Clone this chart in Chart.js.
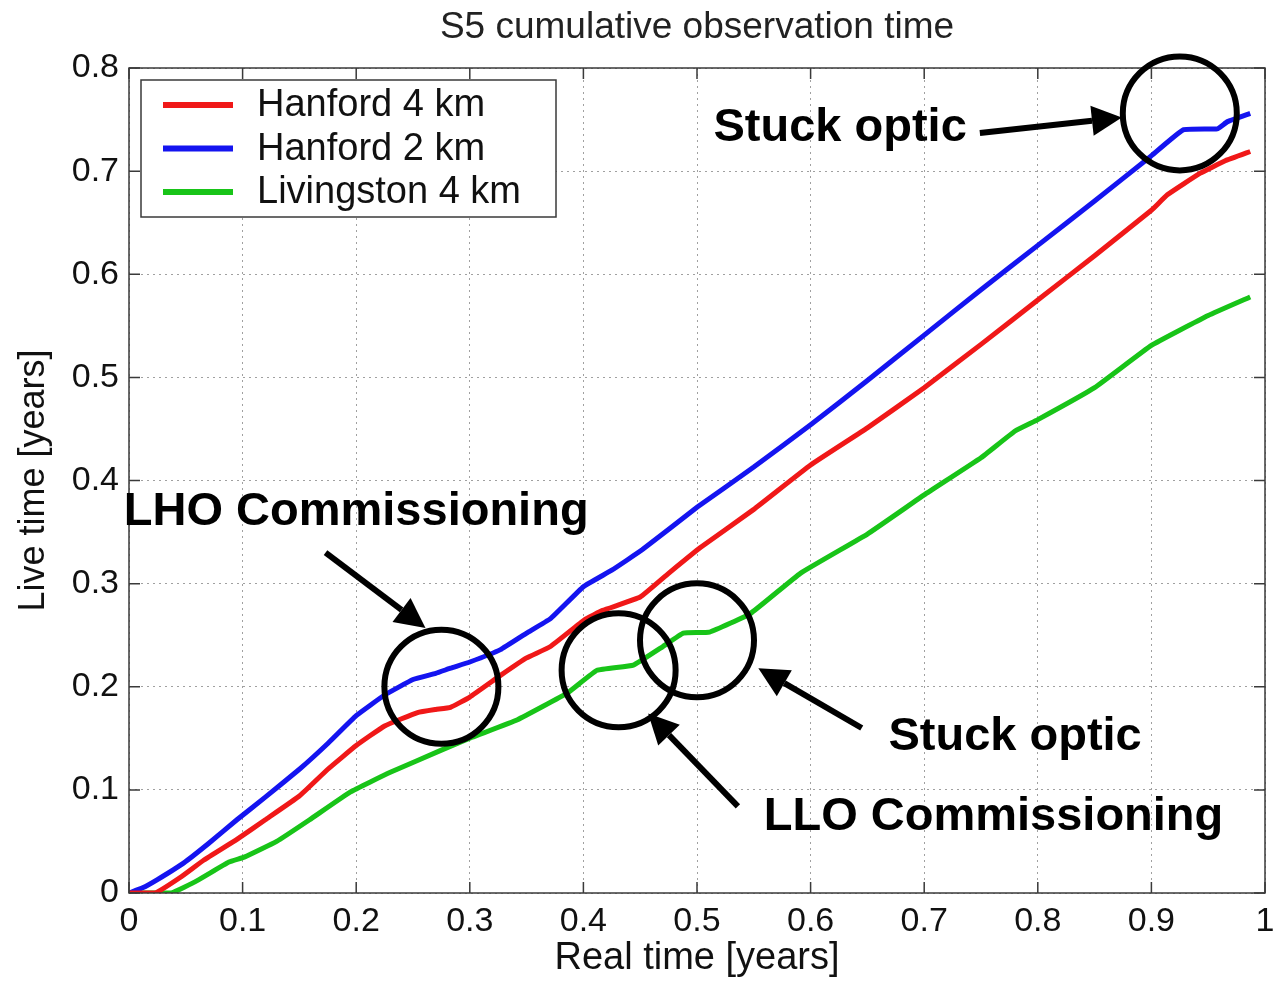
<!DOCTYPE html>
<html>
<head>
<meta charset="utf-8">
<title>S5 cumulative observation time</title>
<script src="https://cdn.jsdelivr.net/npm/chart.js@4/dist/chart.umd.min.js"></script>
<style>
    html, body { margin: 0; padding: 0; background: #fff; }
    #wrap { width: 1275px; height: 981px; }
</style>
</head>
<body>
<div id="wrap"><canvas id="chart" width="1275" height="981"></canvas></div>
<script>
// Series (real time vs live time, years)
const h4X = [0, 0.023, 0.045, 0.066, 0.095, 0.12, 0.15, 0.175, 0.2, 0.225, 0.254, 0.27, 0.283, 0.3, 0.327, 0.35, 0.371, 0.401, 0.417, 0.45, 0.475, 0.503, 0.55, 0.6, 0.65, 0.7, 0.75, 0.8, 0.85, 0.9, 0.914, 0.943, 0.965, 0.987];
const h4Y = [0, 0, 0.015, 0.032, 0.052, 0.071, 0.094, 0.12, 0.143, 0.162, 0.175, 0.178, 0.18, 0.19, 0.211, 0.228, 0.239, 0.265, 0.274, 0.287, 0.31, 0.335, 0.372, 0.415, 0.451, 0.49, 0.532, 0.575, 0.618, 0.662, 0.677, 0.698, 0.71, 0.719];

const h2X = [0, 0.012, 0.025, 0.048, 0.07, 0.095, 0.12, 0.15, 0.175, 0.2, 0.225, 0.25, 0.27, 0.283, 0.3, 0.327, 0.35, 0.371, 0.4, 0.425, 0.452, 0.5, 0.55, 0.6, 0.65, 0.7, 0.75, 0.8, 0.85, 0.899, 0.928, 0.958, 0.967, 0.987];
const h2Y = [0, 0.005, 0.013, 0.029, 0.048, 0.071, 0.093, 0.12, 0.145, 0.172, 0.192, 0.207, 0.213, 0.218, 0.224, 0.236, 0.252, 0.266, 0.297, 0.313, 0.333, 0.374, 0.413, 0.454, 0.497, 0.541, 0.585, 0.628, 0.671, 0.714, 0.74, 0.741, 0.748, 0.756];

const l4X = [0, 0.037, 0.06, 0.088, 0.102, 0.13, 0.159, 0.195, 0.23, 0.276, 0.302, 0.342, 0.386, 0.412, 0.444, 0.47, 0.488, 0.511, 0.547, 0.591, 0.65, 0.7, 0.75, 0.78, 0.8, 0.85, 0.9, 0.95, 0.987];
const l4Y = [0, 0, 0.012, 0.03, 0.035, 0.05, 0.071, 0.098, 0.117, 0.139, 0.151, 0.168, 0.194, 0.216, 0.221, 0.239, 0.252, 0.253, 0.271, 0.31, 0.348, 0.386, 0.422, 0.448, 0.459, 0.49, 0.531, 0.56, 0.578];

const seriesNames = ['Hanford 4 km', 'Hanford 2 km', 'Livingston 4 km'];
const seriesColors = ['#f01818', '#1414f0', '#18c418'];

const xTicks = [0, 0.1, 0.2, 0.3, 0.4, 0.5, 0.6, 0.7, 0.8, 0.9, 1];
const yTicks = [0, 0.1, 0.2, 0.3, 0.4, 0.5, 0.6, 0.7, 0.8];

const chartTitle = 'S5 cumulative observation time';
const xTitle = 'Real time [years]';
const yTitle = 'Live time [years]';

// callouts, anchored in data units
const circles = [
    { x: 0.925, y: 0.756 },
    { x: 0.275, y: 0.2 },
    { x: 0.431, y: 0.216 },
    { x: 0.5, y: 0.245 }
];
const labels = [
    { text: 'Stuck optic', x: 0.626, y: 0.742 },
    { text: 'LHO Commissioning', x: 0.2, y: 0.369 },
    { text: 'Stuck optic', x: 0.78, y: 0.151 },
    { text: 'LLO Commissioning', x: 0.761, y: 0.074 }
];
const arrows = [
    { x1: 0.749, y1: 0.737, x2: 0.874, y2: 0.752 },
    { x1: 0.173, y1: 0.33, x2: 0.261, y2: 0.257 },
    { x1: 0.645, y1: 0.16, x2: 0.554, y2: 0.218 },
    { x1: 0.536, y1: 0.084, x2: 0.457, y2: 0.174 }
];

const FONT = '"Liberation Sans", Arial, Helvetica, sans-serif';

function toPoints(xs, ys) {
    return xs.map((x, i) => ({ x: x, y: ys[i] }));
}

function fmtTick(v) {
    return String(Number(v.toFixed(1)));
}

// frame, inward ticks, title, legend and callouts
const decorPlugin = {
    id: 'decor',
    afterDraw(chart) {
        const ctx = chart.ctx;
        const area = chart.chartArea;
        const sx = chart.scales.x;
        const sy = chart.scales.y;
        ctx.save();

        // box + inward ticks
        ctx.setLineDash([]);
        ctx.strokeStyle = '#3a3a3a';
        ctx.lineWidth = 1.5;
        ctx.strokeRect(area.left, area.top, area.right - area.left, area.bottom - area.top);
        ctx.beginPath();
        xTicks.forEach(v => {
            const px = sx.getPixelForValue(v);
            ctx.moveTo(px, area.bottom); ctx.lineTo(px, area.bottom - 11);
            ctx.moveTo(px, area.top); ctx.lineTo(px, area.top + 11);
        });
        yTicks.forEach(v => {
            const py = sy.getPixelForValue(v);
            ctx.moveTo(area.left, py); ctx.lineTo(area.left + 11, py);
            ctx.moveTo(area.right, py); ctx.lineTo(area.right - 11, py);
        });
        ctx.stroke();

        // title
        ctx.fillStyle = '#222';
        ctx.font = '37px ' + FONT;
        ctx.textAlign = 'center';
        ctx.textBaseline = 'middle';
        ctx.fillText(chartTitle, (area.left + area.right) / 2, 28);

        // legend
        const lx = area.left + 12, ly = area.top + 12;
        ctx.fillStyle = '#fff';
        ctx.fillRect(lx, ly, 415, 137);
        ctx.strokeStyle = '#3a3a3a';
        ctx.lineWidth = 1.5;
        ctx.strokeRect(lx, ly, 415, 137);
        ctx.font = '38px ' + FONT;
        ctx.textAlign = 'left';
        seriesNames.forEach((name, i) => {
            const y = ly + 25 + i * 43.5;
            ctx.strokeStyle = seriesColors[i];
            ctx.lineWidth = 6;
            ctx.beginPath();
            ctx.moveTo(lx + 22, y);
            ctx.lineTo(lx + 92, y);
            ctx.stroke();
            ctx.fillStyle = '#111';
            ctx.fillText(name, lx + 116, y + 1);
        });

        // circles
        ctx.strokeStyle = '#000';
        ctx.lineWidth = 6;
        circles.forEach(c => {
            ctx.beginPath();
            ctx.arc(sx.getPixelForValue(c.x), sy.getPixelForValue(c.y), 57, 0, Math.PI * 2);
            ctx.stroke();
        });

        // arrows
        ctx.fillStyle = '#000';
        arrows.forEach(a => {
            const x1 = sx.getPixelForValue(a.x1), y1 = sy.getPixelForValue(a.y1);
            const x2 = sx.getPixelForValue(a.x2), y2 = sy.getPixelForValue(a.y2);
            const ang = Math.atan2(y2 - y1, x2 - x1);
            const headLen = 30, headW = 15;
            const bx = x2 - headLen * Math.cos(ang), by = y2 - headLen * Math.sin(ang);
            ctx.lineWidth = 6;
            ctx.beginPath();
            ctx.moveTo(x1, y1);
            ctx.lineTo(bx, by);
            ctx.stroke();
            ctx.beginPath();
            ctx.moveTo(x2, y2);
            ctx.lineTo(bx + headW * Math.sin(ang), by - headW * Math.cos(ang));
            ctx.lineTo(bx - headW * Math.sin(ang), by + headW * Math.cos(ang));
            ctx.closePath();
            ctx.fill();
        });

        // callout text
        ctx.font = 'bold 47px ' + FONT;
        ctx.textAlign = 'center';
        ctx.textBaseline = 'middle';
        labels.forEach(l => {
            ctx.fillText(l.text, sx.getPixelForValue(l.x), sy.getPixelForValue(l.y));
        });

        ctx.restore();
    }
};

const ctx = document.getElementById('chart');
const chart = new Chart(ctx, {
    type: 'scatter',
    data: {
        datasets: [
            { label: seriesNames[0], data: toPoints(h4X, h4Y) },
            { label: seriesNames[1], data: toPoints(h2X, h2Y) },
            { label: seriesNames[2], data: toPoints(l4X, l4Y) }
        ].map((d, i) => Object.assign(d, {
            showLine: true,
            borderColor: seriesColors[i],
            backgroundColor: seriesColors[i],
            borderWidth: 5,
            pointRadius: 0,
            tension: 0.1,
            fill: false
        }))
    },
    options: {
        responsive: false,
        animation: false,
        devicePixelRatio: 1,
        layout: { padding: { top: 68, right: 10, left: 0, bottom: 0 } },
        plugins: {
            legend: { display: false },
            title: { display: false },
            tooltip: { enabled: false }
        },
        scales: {
            x: {
                type: 'linear',
                min: 0,
                max: 1,
                afterFit: scale => {
                    scale.height = 88;
                    scale.paddingLeft = 0;
                    scale.paddingRight = 0;
                },
                afterBuildTicks: scale => { scale.ticks = xTicks.map(v => ({ value: v })); },
                ticks: {
                    callback: v => fmtTick(v),
                    color: '#111',
                    font: { family: FONT, size: 34 },
                    padding: 8,
                    maxRotation: 0,
                    autoSkip: false
                },
                grid: { color: '#a0a0a0', lineWidth: 1, drawTicks: false },
                border: { display: false, dash: [2, 4] },
                title: {
                    display: true,
                    text: xTitle,
                    color: '#111',
                    font: { family: FONT, size: 38 },
                    padding: { top: 0, bottom: 0 }
                }
            },
            y: {
                type: 'linear',
                min: 0,
                max: 0.8,
                afterFit: scale => {
                    scale.width = 129;
                    scale.paddingTop = 0;
                    scale.paddingBottom = 0;
                },
                afterBuildTicks: scale => { scale.ticks = yTicks.map(v => ({ value: v })); },
                ticks: {
                    callback: v => fmtTick(v),
                    color: '#111',
                    font: { family: FONT, size: 34 },
                    padding: 10,
                    autoSkip: false
                },
                grid: { color: '#a0a0a0', lineWidth: 1, drawTicks: false },
                border: { display: false, dash: [2, 4] },
                title: {
                    display: true,
                    text: yTitle,
                    color: '#111',
                    font: { family: FONT, size: 36 },
                    padding: { top: 12, bottom: 0 }
                }
            }
        }
    },
    plugins: [decorPlugin]
});
</script>
</body>
</html>
